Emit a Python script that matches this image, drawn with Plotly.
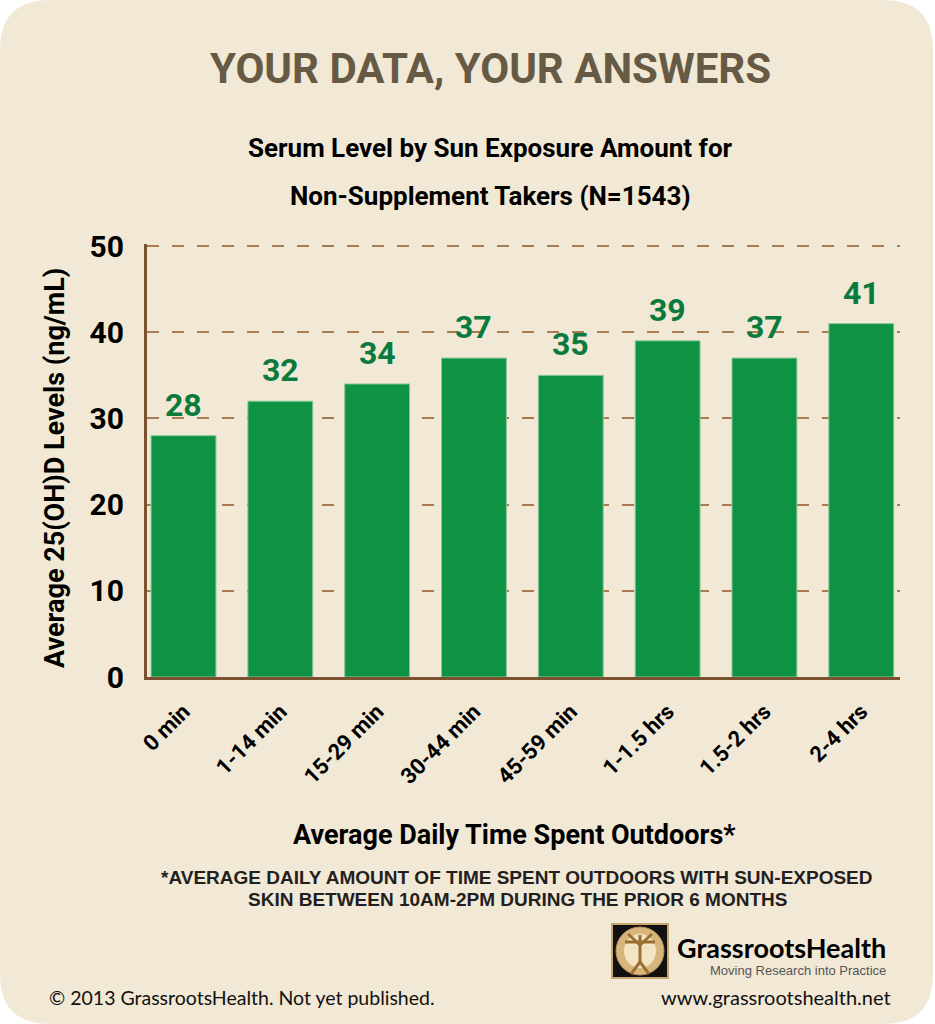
import plotly.graph_objects as go

# ---- data ----
categories = ["0 min", "1-14 min", "15-29 min", "30-44 min", "45-59 min", "1-1.5 hrs", "1.5-2 hrs", "2-4 hrs"]
values = [28, 32, 34, 37, 35, 39, 37, 41]
y_ticks = [0, 10, 20, 30, 40, 50]

W, H = 935, 1024
def px(x):
    return x / W
def py(y):
    return 1 - y / H

COND = "Roboto, Liberation Sans, sans-serif"
GREEN = "#0e9345"
LABEL_GREEN = "#0b7a3d"
BROWN = "#7a5230"
GRID = "#a87c52"
CREAM = "#f1e8d5"

fig = go.Figure()
fig.add_trace(go.Bar(
    x=categories, y=values, width=0.67,
    marker=dict(color=GREEN, line=dict(color="#8cc79b", width=1)),
    hoverinfo="x+y",
))

annotations = []
for c, v in zip(categories, values):
    annotations.append(dict(x=c, y=v, xref="x", yref="y", text=f"<b>{v}</b>", showarrow=False,
                            yanchor="bottom", yshift=10,
                            font=dict(family=COND, size=32, color=LABEL_GREEN)))

def txt(x, y, text, size, color="#000000", family=COND, xanchor="center", yanchor="middle", angle=0):
    annotations.append(dict(x=px(x), y=py(y), xref="paper", yref="paper", text=text, showarrow=False,
                            xanchor=xanchor, yanchor=yanchor, textangle=angle,
                            font=dict(family=family, size=size, color=color)))

txt(490, 68, "<b>YOUR DATA, YOUR ANSWERS</b>", 42, color="#665a45")
txt(490, 148, "<b>Serum Level by Sun Exposure Amount for</b>", 26)
txt(490, 196, "<b>Non-Supplement Takers (N=1543)</b>", 26)
txt(55, 468, "<b>Average 25(OH)D Levels (ng/mL)</b>", 27, angle=-90)
txt(514, 835, "<b>Average Daily Time Spent Outdoors*</b>", 27)
txt(517, 877, "<b>*AVERAGE DAILY AMOUNT OF TIME SPENT OUTDOORS WITH SUN-EXPOSED</b>", 19,
    color="#231f20", family="Liberation Sans, Arial, sans-serif")
txt(517, 899, "<b>SKIN BETWEEN 10AM-2PM DURING THE PRIOR 6 MONTHS</b>", 19,
    color="#231f20", family="Liberation Sans, Arial, sans-serif")
txt(888, 947, "<b>GrassrootsHealth</b>", 27, family="Lato, Open Sans, sans-serif", xanchor="right")
txt(888, 970, "Moving Research into Practice", 13, color="#555555",
    family="Liberation Sans, Arial, sans-serif", xanchor="right")
txt(893, 997, "www.grassrootshealth.net", 20, color="#111111", family="Lato, Open Sans, sans-serif", xanchor="right")
txt(47, 997, "© 2013 GrassrootsHealth. Not yet published.", 19.5, color="#111111",
    family="Lato, Open Sans, sans-serif", xanchor="left")

# rounded card background
r = 50
x0, x1, y0, y1 = 0, 933, 0, 1024
def P(x, y):
    return f"{px(x):.5f},{py(y):.5f}"
path = (f"M {P(x0 + r, y0)} L {P(x1 - r, y0)} Q {P(x1, y0)} {P(x1, y0 + r)} "
        f"L {P(x1, y1 - r)} Q {P(x1, y1)} {P(x1 - r, y1)} "
        f"L {P(x0 + r, y1)} Q {P(x0, y1)} {P(x0, y1 - r)} "
        f"L {P(x0, y0 + r)} Q {P(x0, y0)} {P(x0 + r, y0)} Z")
shapes = [dict(type="path", path=path, xref="paper", yref="paper", fillcolor=CREAM,
               line=dict(width=0), layer="below")]

# logo
shapes.append(dict(type="rect", xref="paper", yref="paper", x0=px(612), x1=px(668), y0=py(978), y1=py(924),
                   fillcolor="#111111", line=dict(color="#c8a76e", width=2), layer="above"))
shapes.append(dict(type="circle", xref="paper", yref="paper", x0=px(616), x1=px(664), y0=py(975), y1=py(927),
                   fillcolor="#d7b57c", line=dict(color="#b8925a", width=1), layer="above"))
shapes.append(dict(type="circle", xref="paper", yref="paper", x0=px(624), x1=px(656), y0=py(968), y1=py(934),
                   fillcolor="#f3e4c4", line=dict(width=0), layer="above"))
for (ax0, ay0, ax1, ay1) in [(640, 935, 640, 962), (625, 942, 655, 942), (640, 962, 631, 974), (640, 962, 649, 974),
                             (640, 945, 628, 934), (640, 945, 652, 934)]:
    shapes.append(dict(type="line", xref="paper", yref="paper", x0=px(ax0), y0=py(ay0), x1=px(ax1), y1=py(ay1),
                       line=dict(color="#9a6f34", width=3), layer="above"))

fig.update_layout(
    width=W, height=H,
    margin=dict(l=0, r=0, t=0, b=0, pad=0, autoexpand=False),
    paper_bgcolor="#ffffff",
    plot_bgcolor="rgba(0,0,0,0)",
    showlegend=False,
    bargap=0.33,
    xaxis=dict(domain=[px(147), px(900)], range=[-0.377, 7.40], type="category",
               tickangle=-45, tickfont=dict(family=COND, size=22, color="#000000", weight="bold"),
               showline=True, linecolor=BROWN, linewidth=3, ticks="", showgrid=False,
               ticklabelstandoff=10, automargin=False),
    yaxis=dict(domain=[py(677), py(244.3)], range=[0, 50.2], tickvals=y_ticks,
               tickfont=dict(family=COND, size=30, color="#000000", weight="bold"),
               showline=True, linecolor=BROWN, linewidth=3, ticks="",
               showgrid=True, gridcolor=GRID, gridwidth=2, griddash="12px,13px",
               zeroline=False, ticklabelstandoff=14, automargin=False),
    annotations=annotations,
    shapes=shapes,
)

fig.write_html("out.html")
